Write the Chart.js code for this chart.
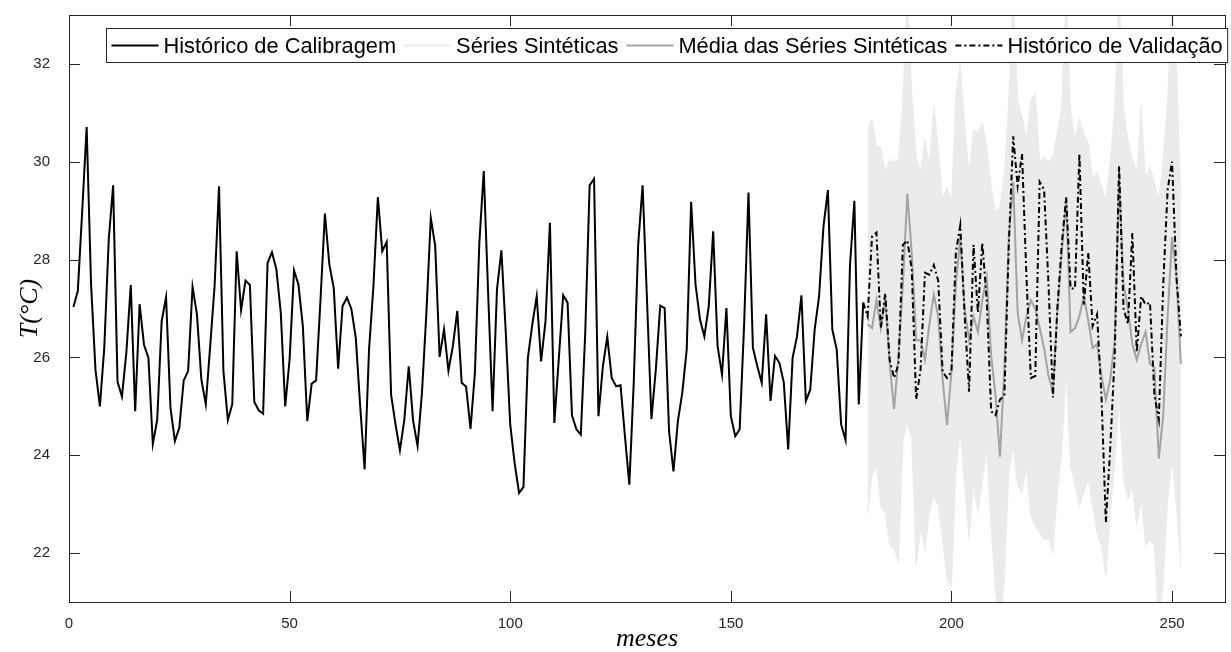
<!DOCTYPE html>
<html>
<head>
<meta charset="utf-8">
<script src="https://cdn.jsdelivr.net/npm/chart.js@4"></script>
<style>
  html, body { margin: 0; padding: 0; background: #fff; }
  #wrap { width: 1231px; height: 652px; }
</style>
</head>
<body>
<div id="wrap"><canvas id="myCanvas" width="1231" height="652"></canvas></div>
<script>
// monthly temperature, months 1..180 (calibration period)
const calibracao = [
  27.03, 27.36, 29.0, 30.71, 27.5, 25.75, 25.0, 26.2, 28.4, 29.52,
  25.5, 25.2, 26.1, 27.48, 24.9, 27.09, 26.26, 25.99, 24.23, 24.73,
  26.74, 27.23, 24.97, 24.29, 24.56, 25.53, 25.72, 27.44, 26.88, 25.55,
  25.04, 26.23, 27.46, 29.5, 25.72, 24.72, 25.04, 28.17, 26.97, 27.57,
  27.48, 25.09, 24.92, 24.85, 27.93, 28.15, 27.8, 26.91, 25.0, 25.96,
  27.78, 27.49, 26.64, 24.7, 25.46, 25.53, 27.18, 28.94, 27.9, 27.42,
  25.77, 27.05, 27.22, 26.99, 26.4, 25.0, 23.71, 26.16, 27.46, 29.28,
  28.17, 28.36, 25.24, 24.63, 24.1, 24.73, 25.82, 24.7, 24.19, 25.28,
  26.91, 28.85, 28.28, 26.01, 26.57, 25.73, 26.23, 26.95, 25.48, 25.4,
  24.54, 25.69, 28.34, 29.81, 27.3, 24.9, 27.39, 28.19, 26.5, 24.63,
  23.84, 23.23, 23.35, 25.99, 26.67, 27.25, 25.92, 26.74, 28.75, 24.66,
  25.96, 27.27, 27.12, 24.81, 24.53, 24.42, 26.5, 29.52, 29.65, 24.8,
  25.82, 26.42, 25.58, 25.41, 25.43, 24.39, 23.4, 25.5, 28.3, 29.52,
  27.18, 24.74, 25.75, 27.06, 27.01, 24.49, 23.67, 24.7, 25.28, 26.16,
  29.18, 27.49, 26.78, 26.43, 27.05, 28.58, 26.23, 25.65, 27.01, 24.8,
  24.39, 24.53, 26.64, 29.37, 26.2, 25.82, 25.48, 26.88, 25.11, 26.03,
  25.89, 25.49, 24.12, 25.99, 26.43, 27.27, 25.11, 25.34, 26.57, 27.25,
  28.68, 29.42, 26.57, 26.16, 24.63, 24.31, 27.87, 29.2, 25.04, 27.12
];

// validation record, months 180..252
const validacao = [
  27.12, 26.84, 28.47, 28.55, 26.6, 27.31, 25.95, 25.58, 25.87, 28.3,
  28.39, 27.81, 25.14, 25.75, 27.73, 27.69, 27.89, 27.57, 25.71, 25.58,
  25.71, 28.14, 28.7, 26.84, 25.3, 28.3, 26.92, 28.34, 27.17, 24.9,
  24.82, 25.14, 25.22, 28.3, 30.52, 29.51, 30.16, 27.65, 25.58, 25.62,
  29.59, 29.43, 27.49, 25.18, 27.0, 28.3, 29.27, 27.41, 27.41, 30.16,
  27.08, 28.14, 26.64, 26.88, 25.22, 22.63, 24.17, 26.03, 29.92, 27.0,
  26.68, 28.54, 26.11, 27.25, 27.08, 27.12, 25.22, 24.73, 27.49, 29.43,
  30.0, 27.65, 26.43
];

// mean of the synthetic series, months 181..252
const mediaSinteticas = [
  26.68, 26.6, 27.17, 26.6, 27.17, 25.87, 24.94, 26.03, 27.49, 29.35,
  28.14, 26.35, 26.35, 25.95, 26.68, 27.28, 26.84, 25.55, 24.62, 25.71,
  27.49, 28.46, 27.0, 26.35, 26.84, 26.52, 27.17, 27.65, 26.03, 25.22,
  23.97, 25.79, 28.46, 29.59, 26.92, 26.35, 26.84, 27.17, 27.0, 26.6,
  26.19, 25.62, 25.3, 26.92, 28.14, 29.27, 26.52, 26.6, 26.84, 27.25,
  26.76, 26.19, 26.27, 25.62, 25.14, 25.55, 26.35, 29.7, 27.5, 27.0,
  26.27, 25.95, 26.27, 26.52, 25.87, 25.79, 23.93, 24.82, 26.84, 28.46,
  27.65, 25.87
];

// spread of the synthetic series (highest / lowest member), months 181..252
const sinteticasMax = [
  30.66, 30.87, 30.32, 30.3, 29.8, 30.05, 30.0, 30.05, 31.27, 33.5,
  31.41, 30.11, 29.78, 30.46, 29.91, 31.14, 30.32, 29.23, 29.5, 29.16,
  31.41, 32.02, 30.73, 29.78, 30.66, 30.6, 30.8, 30.32, 29.5, 28.96,
  29.09, 29.78, 31.27, 33.5, 31.27, 30.93, 30.46, 31.27, 31.41, 30.0,
  30.1, 30.0, 30.1, 30.59, 31.14, 33.5, 31.07, 30.46, 30.87, 30.59,
  30.39, 29.64, 29.78, 29.5, 29.23, 30.05, 31.07, 33.5, 31.07, 30.46,
  30.05, 29.78, 31.14, 29.64, 29.91, 29.57, 29.23, 30.05, 31.27, 33.5,
  31.95, 29.23
];
const sinteticasMin = [
  22.82, 23.57, 23.78, 22.96, 22.82, 22.14, 22.11, 21.8, 24.25, 24.66,
  24.32, 21.73, 22.48, 22.07, 22.82, 23.16, 22.96, 22.28, 21.46, 21.32,
  23.64, 24.46, 23.37, 22.28, 23.37, 22.82, 23.44, 24.12, 22.48, 21.19,
  20.5, 21.46, 23.64, 24.18, 23.37, 23.23, 23.78, 22.75, 22.55, 22.41,
  22.28, 22.28, 22.0, 23.23, 24.05, 25.69, 23.78, 23.37, 22.96, 23.23,
  23.5, 22.96, 22.41, 22.14, 21.53, 22.82, 23.78, 25.14, 23.5, 23.09,
  23.37, 22.55, 23.09, 22.14, 22.28, 22.14, 20.5, 21.39, 23.09, 23.91,
  22.96, 21.73
];

const xTicks = [0, 50, 100, 150, 200, 250];
const yTicks = [22, 24, 26, 28, 30, 32];

const axisColor = '#262626';
const bandColor = '#ebebeb';

function pts(values, firstMonth) {
  return values.map((v, i) => ({ x: firstMonth + i, y: v }));
}

// frame with inward ticks on all four sides + boxed legend inside the axes
const frameAndLegend = {
  id: 'frameAndLegend',
  afterDraw(chart) {
    const { ctx, chartArea: a, scales } = chart;
    const tl = 11;
    ctx.save();
    ctx.strokeStyle = axisColor;
    ctx.lineWidth = 1;
    ctx.strokeRect(Math.round(a.left) + 0.5, Math.round(a.top) + 0.5,
      Math.round(a.right - a.left), Math.round(a.bottom - a.top));
    ctx.beginPath();
    xTicks.forEach(v => {
      const px = Math.round(scales.x.getPixelForValue(v)) + 0.5;
      ctx.moveTo(px, a.bottom); ctx.lineTo(px, a.bottom - tl);
      ctx.moveTo(px, a.top); ctx.lineTo(px, a.top + tl);
    });
    yTicks.forEach(v => {
      const py = Math.round(scales.y.getPixelForValue(v)) + 0.5;
      ctx.moveTo(a.left, py); ctx.lineTo(a.left + tl, py);
      ctx.moveTo(a.right, py); ctx.lineTo(a.right - tl, py);
    });
    ctx.stroke();

    // legend
    const items = [0, 1, 3, 4].map(i => chart.data.datasets[i]);
    ctx.font = '21.8px "Liberation Sans", Arial, sans-serif';
    const lineLen = 47, gapText = 5, gapItem = 8, pad = 5;
    const boxTop = 28.5, boxH = 34, boxLeft = 106.5;
    let w = pad * 2;
    items.forEach((d, k) => {
      w += lineLen + gapText + ctx.measureText(d.label).width + (k < items.length - 1 ? gapItem : 0);
    });
    ctx.fillStyle = '#fff';
    ctx.fillRect(boxLeft, boxTop, w, boxH);
    ctx.strokeStyle = axisColor;
    ctx.strokeRect(boxLeft, boxTop, w, boxH);
    const cy = boxTop + boxH / 2;
    let x = boxLeft + pad;
    items.forEach(d => {
      ctx.beginPath();
      ctx.strokeStyle = d.legendColor || d.borderColor;
      ctx.lineWidth = 2;
      ctx.setLineDash(d.borderDash || []);
      ctx.moveTo(x, cy); ctx.lineTo(x + lineLen, cy);
      ctx.stroke();
      ctx.setLineDash([]);
      x += lineLen + gapText;
      ctx.fillStyle = '#000';
      ctx.textBaseline = 'middle';
      ctx.textAlign = 'left';
      ctx.fillText(d.label, x, cy + 1);
      x += ctx.measureText(d.label).width + gapItem;
    });
    ctx.restore();
  }
};

const ctx = document.getElementById('myCanvas').getContext('2d');

const myChart = new Chart(ctx, {
  type: 'line',
  data: {
    datasets: [
      {
        label: 'Histórico de Calibragem',
        data: pts(calibracao, 1),
        borderColor: '#000',
        borderWidth: 2,
        pointRadius: 0,
        fill: false,
        tension: 0,
        order: 1
      },
      {
        label: 'Séries Sintéticas',
        data: pts(sinteticasMax, 181),
        borderColor: bandColor,
        legendColor: '#ececec',
        backgroundColor: bandColor,
        borderWidth: 1,
        pointRadius: 0,
        fill: '+1',
        tension: 0,
        clip: 0,
        order: 10
      },
      {
        label: 'Séries Sintéticas (mín)',
        data: pts(sinteticasMin, 181),
        borderColor: bandColor,
        borderWidth: 1,
        pointRadius: 0,
        fill: false,
        tension: 0,
        clip: 0,
        order: 11
      },
      {
        label: 'Média das Séries Sintéticas',
        data: pts(mediaSinteticas, 181),
        borderColor: '#a3a3a3',
        borderWidth: 2,
        pointRadius: 0,
        fill: false,
        tension: 0,
        order: 3
      },
      {
        label: 'Histórico de Validação',
        data: pts(validacao, 180),
        borderColor: '#000',
        borderWidth: 2,
        borderDash: [6, 3, 2, 3],
        pointRadius: 0,
        fill: false,
        tension: 0,
        order: 2
      }
    ]
  },
  options: {
    responsive: false,
    animation: false,
    devicePixelRatio: 1,
    layout: { padding: { left: 0, right: 6, top: 15, bottom: 0 } },
    plugins: {
      legend: { display: false },
      tooltip: { enabled: false }
    },
    scales: {
      x: {
        type: 'linear',
        min: 0,
        max: 262,
        grid: { display: false },
        border: { display: false },
        afterBuildTicks: s => { s.ticks = xTicks.map(v => ({ value: v })); },
        afterFit: s => { s.height = 50; s.paddingLeft = 0; s.paddingRight = 0; },
        ticks: {
          color: axisColor,
          padding: 5,
          maxRotation: 0,
          font: { family: '"Liberation Sans", Arial, sans-serif', size: 15 }
        },
        title: {
          display: true,
          text: 'meses',
          color: '#000',
          padding: { top: 0, bottom: 0 },
          font: { family: '"Liberation Serif", "DejaVu Serif", serif', style: 'italic', size: 26, lineHeight: 1 }
        }
      },
      y: {
        min: 21,
        max: 33,
        grid: { display: false },
        border: { display: false },
        afterBuildTicks: s => { s.ticks = yTicks.map(v => ({ value: v })); },
        afterFit: s => { s.width = 69; s.paddingTop = 0; s.paddingBottom = 0; },
        ticks: {
          color: axisColor,
          padding: 11,
          font: { family: '"Liberation Sans", Arial, sans-serif', size: 15 }
        },
        title: {
          display: true,
          text: 'T(°C)',
          color: '#000',
          padding: { top: 17, bottom: 0 },
          font: { family: '"Liberation Serif", "DejaVu Serif", serif', style: 'italic', size: 26, lineHeight: 1 }
        }
      }
    }
  },
  plugins: [frameAndLegend]
});
</script>
</body>
</html>
